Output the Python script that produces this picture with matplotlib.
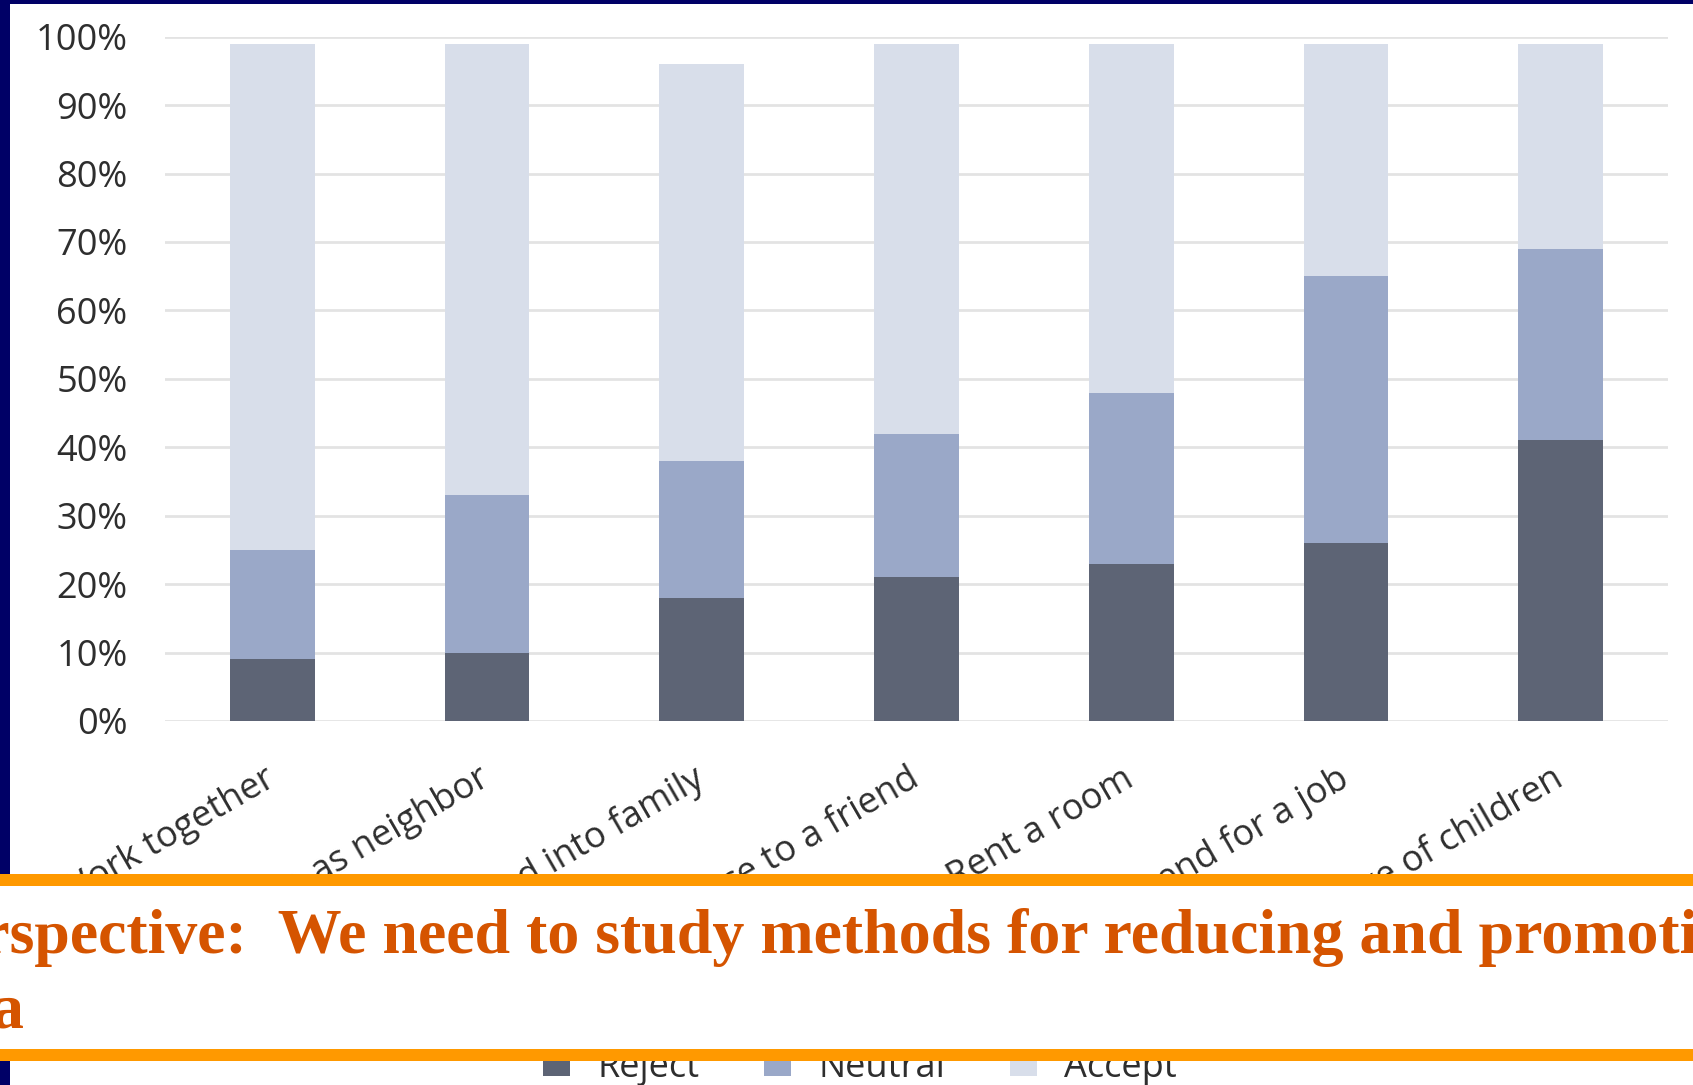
import matplotlib
matplotlib.use("Agg")
import matplotlib.pyplot as plt
from matplotlib.patches import Rectangle, Patch
import numpy as np

# ---- data -------------------------------------------------------------
categories = [
    "Work together",
    "Live as neighbor",
    "Married into family",
    "Introduce to a friend",
    "Rent a room",
    "Recommend for a job",
    "Take care of children",
]
reject = [9, 10, 18, 21, 23, 26, 41]
neutral = [16, 23, 20, 21, 25, 39, 28]
accept = [74, 66, 58, 57, 51, 34, 30]
series_names = ["Reject", "Neutral", "Accept"]
y_ticks = [0, 10, 20, 30, 40, 50, 60, 70, 80, 90, 100]
y_tick_labels = [f"{v}%" for v in y_ticks]

banner_line1 = "Perspective:  We need to study methods for reducing and promoting"
banner_line2 = "a"

# ---- styling ----------------------------------------------------------
colors = ["#5d6475", "#9aa8c8", "#d8deea"]
grid_color = "#e3e3e3"
label_color = "#2e2e2e"
navy = "#000066"
orange = "#ff9900"
banner_text_color = "#d55400"
sans = ["Open Sans", "DejaVu Sans"]
serif = ["Liberation Serif", "DejaVu Serif"]

W, H, DPI = 1693, 1085, 100
fig = plt.figure(figsize=(W / DPI, H / DPI), dpi=DPI)
fig.patch.set_facecolor("white")


def fx(px):
    return px / W


def fy(py):
    return 1 - py / H


# ---- chart ------------------------------------------------------------
ax = fig.add_axes([fx(165), fy(721), fx(1668) - fx(165), fy(36.7) - fy(721)])
x = np.arange(len(categories))
bottom = np.zeros(len(categories))
for vals, col in zip([reject, neutral, accept], colors):
    ax.bar(x, vals, width=0.395, bottom=bottom, color=col, zorder=2)
    bottom += np.array(vals)

ax.set_xlim(-0.5, len(categories) - 0.5)
ax.set_ylim(0, 100)
ax.set_yticks(y_ticks, y_tick_labels, fontsize=26, color=label_color, family=sans)
ax.yaxis.grid(True, color=grid_color, linewidth=2.0, zorder=0)
ax.set_axisbelow(True)
for s in ax.spines.values():
    s.set_visible(False)
ax.tick_params(axis="y", length=0, pad=27)
ax.set_xticks(x, categories, rotation=30, ha="right", va="center",
              rotation_mode="anchor", fontsize=26, color=label_color, family=sans)
ax.tick_params(axis="x", length=0, pad=40)

# legend
handles = [Patch(facecolor=c, edgecolor="none") for c in colors]
leg = fig.legend(handles, series_names, loc="center",
                 bbox_to_anchor=(fx(860), fy(1068)), ncol=3, frameon=False,
                 prop={"family": sans, "size": 26}, handlelength=0.75,
                 handleheight=0.6, handletextpad=0.75, columnspacing=1.8,
                 borderaxespad=0, borderpad=0)
for t in leg.get_texts():
    t.set_color(label_color)

# ---- slide frame ------------------------------------------------------
fig.add_artist(Rectangle((0, fy(4)), 1, 4 / H, transform=fig.transFigure,
                         facecolor=navy, edgecolor="none", zorder=8))
fig.add_artist(Rectangle((0, 0), 10 / W, 1, transform=fig.transFigure,
                         facecolor=navy, edgecolor="none", zorder=8))

# ---- banner box -------------------------------------------------------
fig.add_artist(Rectangle((0, fy(1061)), 1, (1061 - 874) / H,
                         transform=fig.transFigure, facecolor="white",
                         edgecolor="none", zorder=10))
fig.add_artist(Rectangle((0, fy(886)), 1, 12 / H, transform=fig.transFigure,
                         facecolor=orange, edgecolor="none", zorder=11))
fig.add_artist(Rectangle((0, fy(1061)), 1, 12 / H, transform=fig.transFigure,
                         facecolor=orange, edgecolor="none", zorder=11))
fig.text(fx(-86), fy(953), banner_line1, ha="left", va="baseline",
         fontsize=46, fontweight="bold", family=serif,
         color=banner_text_color, zorder=12)
fig.text(fx(-8), fy(1028), banner_line2, ha="left", va="baseline",
         fontsize=46, fontweight="bold", family=serif,
         color=banner_text_color, zorder=12)

fig.savefig("out.png", dpi=DPI, facecolor=fig.get_facecolor())
